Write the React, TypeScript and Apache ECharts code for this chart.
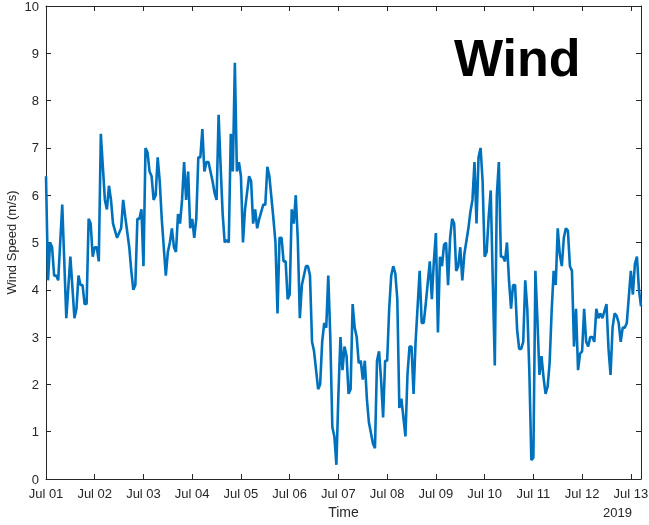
import React, { useEffect, useRef } from "react";
import * as echarts from "echarts";

// hours since 2019-07-01 00:00
const hours = [
  0, 1, 2, 3, 4, 5, 6, 8, 10, 12, 14, 15, 16, 17, 18, 19, 20, 21, 22, 23, 24, 25, 26, 27, 29, 30, 31, 32, 33, 35,
  37, 38, 39, 41, 42, 43, 44, 45, 46, 47, 48, 49, 50, 51, 52, 53, 54, 55, 56, 57, 59, 60, 61, 62, 63, 64, 65, 66,
  67, 68, 69, 70, 71, 72, 73, 74, 75, 76, 77, 78, 79, 80, 81, 82, 83, 84, 85, 86, 87, 88, 89, 90, 91, 92, 93, 94,
  95, 96, 97, 98, 100, 101, 102, 103, 104, 105, 107, 108, 109, 110, 112, 113, 114, 115, 116, 117, 118, 119, 120,
  121, 122, 123, 124, 125, 126, 128, 129, 130, 131, 132, 133, 134, 135, 136, 137, 138, 139, 140, 141, 142, 143,
  144, 145, 146, 147, 148, 149, 150, 151, 152, 153, 154, 155, 156, 157, 158, 159, 161, 162, 163, 164, 165, 166,
  167, 168, 169, 170, 171, 172, 173, 174, 175, 176, 177, 178, 179, 180, 181, 182, 184, 185, 186, 187, 189, 190,
  191, 192, 193, 194, 195, 196, 197, 198, 199, 200, 201, 202, 203, 204, 205, 206, 208, 209, 210, 211, 212, 213,
  214, 215, 216, 217, 218, 219, 220, 221, 222, 223, 224, 225, 226, 227, 228, 229, 230, 231, 232, 233, 234, 235,
  236, 237, 238, 239, 240, 241, 242, 243, 244, 245, 246, 247, 248, 249, 250, 251, 252, 253, 254, 255, 256, 257,
  258, 259, 260, 261, 262, 263, 264, 265, 266, 267, 268, 269, 270, 271, 272, 273, 274, 275, 276, 277, 278, 279,
  280, 281, 282, 283, 284, 285, 286, 287, 288, 289, 290, 291, 292, 293,
];

// wind speed (m/s)
const windSpeed = [
  6.4, 4.2, 5.0, 4.9, 4.3, 4.3, 4.2, 5.8, 3.4, 4.7, 3.4, 3.6, 4.3, 4.1, 4.1, 3.7, 3.7, 5.5, 5.4, 4.7, 4.9, 4.9, 4.6,
  7.3, 5.9, 5.7, 6.2, 5.9, 5.4, 5.1, 5.3, 5.9, 5.55, 4.9, 4.4, 4.0, 4.1, 5.5, 5.5, 5.7, 4.5, 7.0, 6.9, 6.5, 6.4,
  5.9, 6.0, 6.8, 6.3, 5.5, 4.3, 4.8, 5.0, 5.3, 4.9, 4.8, 5.6, 5.4, 5.9, 6.7, 5.9, 6.5, 5.3, 5.5, 5.1, 5.5, 6.8,
  6.8, 7.4, 6.5, 6.7, 6.7, 6.5, 6.3, 6.05, 5.9, 7.7, 6.6, 5.6, 5.0, 5.05, 5.0, 7.3, 6.5, 8.8, 6.5, 6.7, 6.4, 5.0,
  5.7, 6.4, 6.3, 5.4, 5.7, 5.3, 5.5, 5.8, 5.8, 6.6, 6.4, 5.5, 5.0, 3.5, 5.1, 5.1, 4.6, 4.6, 3.8, 3.9, 5.7, 5.4,
  6.0, 5.05, 3.4, 4.1, 4.5, 4.5, 4.3, 2.9, 2.7, 2.3, 1.9, 2.0, 2.9, 3.3, 3.2, 4.3, 3.0, 1.1, 0.9, 0.3, 1.8, 3.0,
  2.3, 2.8, 2.6, 1.8, 1.9, 3.7, 3.2, 3.0, 2.45, 2.5, 2.1, 2.5, 1.7, 1.2, 0.75, 0.65, 2.5, 2.7, 2.1, 1.3, 2.5, 2.5,
  3.6, 4.3, 4.5, 4.35, 3.8, 1.5, 1.7, 1.3, 0.9, 2.2, 2.8, 2.8, 1.8, 2.9, 4.4, 3.3, 3.3, 3.7, 4.6, 3.8, 4.6, 5.2,
  3.1, 4.7, 4.5, 4.95, 5.0, 4.1, 5.1, 5.5, 5.4, 4.4, 4.5, 4.9, 4.2, 4.75, 5.3, 5.65, 5.9, 6.7, 5.4, 6.8, 7.0, 6.3,
  4.7, 4.8, 5.55, 6.1, 4.2, 2.4, 6.0, 6.7, 4.7, 4.7, 4.6, 5.0, 4.2, 3.6, 4.1, 4.1, 3.15, 2.75, 2.75, 2.9, 4.2,
  3.6, 2.3, 0.4, 0.45, 4.4, 3.35, 2.2, 2.6, 2.15, 1.8, 1.95, 2.45, 3.55, 4.4, 4.1, 5.3, 4.75, 4.5, 5.1, 5.3, 5.25,
  4.5, 4.4, 2.8, 3.6, 2.3, 2.65, 2.7, 3.6, 2.9, 2.8, 3.0, 3.0, 2.9, 3.6, 3.4, 3.5, 3.4, 3.55, 3.7, 2.75, 2.2, 3.2,
  3.5, 3.45, 3.3, 2.9, 3.2, 3.2, 3.3, 3.85, 4.4, 3.9, 4.55, 4.7, 4.0, 3.65,
];

const dayLabels = [
  "Jul 01", "Jul 02", "Jul 03", "Jul 04", "Jul 05", "Jul 06", "Jul 07",
  "Jul 08", "Jul 09", "Jul 10", "Jul 11", "Jul 12", "Jul 13",
];

const yearLabel = "2019";
const titleText = "Wind";

export default function App() {
  const ref = useRef<HTMLDivElement>(null);

  useEffect(() => {
    if (!ref.current) return;
    const chart = echarts.init(ref.current, null, { renderer: "svg" });
    const font = "'Liberation Sans', Arial, Helvetica, sans-serif";
    const axisColor = "#262626";
    const maxHour = hours[hours.length - 1];

    const baseX = {
      type: "value",
      min: 0,
      max: maxHour,
      interval: 24,
      axisLine: { show: true, onZero: false, lineStyle: { color: axisColor, width: 1 } },
      axisTick: { show: true, inside: true, length: 5, lineStyle: { color: axisColor } },
      splitLine: { show: false },
    };
    const baseY = {
      type: "value",
      min: 0,
      max: 10,
      interval: 1,
      axisLine: { show: true, onZero: false, lineStyle: { color: axisColor, width: 1 } },
      axisTick: { show: true, inside: true, length: 5, lineStyle: { color: axisColor } },
      splitLine: { show: false },
    };

    chart.setOption({
      animation: false,
      grid: {
        left: 46,
        top: 6,
        width: 595,
        height: 473,
        containLabel: false,
        outerBoundsMode: "none",
      },
      xAxis: [
        {
          ...baseX,
          position: "bottom",
          name: "Time",
          nameLocation: "middle",
          nameGap: 26,
          nameMoveOverlap: false,
          nameTextStyle: { color: axisColor, fontSize: 14, fontFamily: font },
          axisLabel: {
            color: axisColor,
            fontSize: 13,
            fontFamily: font,
            margin: 8,
            formatter: (v: number) => (v % 24 === 0 ? dayLabels[v / 24] ?? "" : ""),
          },
        },
        { ...baseX, position: "top", axisLabel: { show: false } },
      ],
      yAxis: [
        {
          ...baseY,
          position: "left",
          name: "Wind Speed (m/s)",
          nameLocation: "middle",
          nameRotate: 90,
          nameGap: 28,
          nameMoveOverlap: false,
          nameTextStyle: { color: axisColor, fontSize: 13, fontFamily: font },
          axisLabel: { color: axisColor, fontSize: 13, fontFamily: font, margin: 7 },
        },
        { ...baseY, position: "right", axisLabel: { show: false } },
      ],
      series: [
        {
          type: "line",
          xAxisIndex: 0,
          yAxisIndex: 0,
          data: hours.map((h, i) => [h, windSpeed[i]]),
          symbol: "none",
          showSymbol: false,
          lineStyle: { color: "#0072BD", width: 2.6 },
          z: 1,
        },
      ],
      graphic: [
        {
          type: "text",
          x: 454,
          y: 58,
          style: {
            text: titleText,
            font: `bold 52px ${font}`,
            fill: "#000000",
            align: "left",
            verticalAlign: "middle",
          },
        },
        {
          type: "text",
          x: 632,
          y: 512,
          style: {
            text: yearLabel,
            font: `13px ${font}`,
            fill: axisColor,
            align: "right",
            verticalAlign: "middle",
          },
        },
      ],
    });

    return () => chart.dispose();
  }, []);

  return (
    <div
      ref={ref}
      style={{ position: "fixed", left: 0, top: 0, width: 649, height: 525 }}
    />
  );
}
